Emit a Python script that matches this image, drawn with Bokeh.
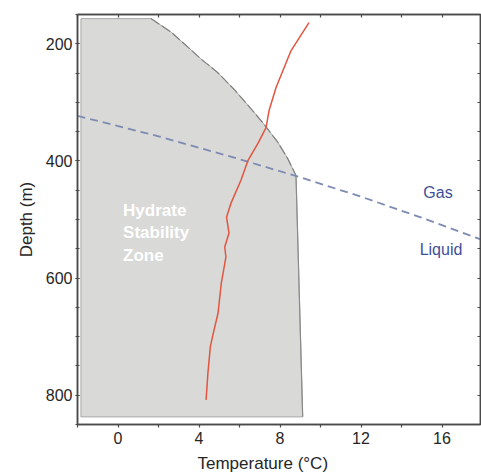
from bokeh.plotting import figure
from bokeh.models import Range1d, FixedTicker, LinearAxis, Label, Title
from bokeh.embed import file_html
from bokeh.resources import INLINE

# ---- data ----
# measured temperature profile (red line)
profile_T = [9.43, 8.54, 7.80, 7.46, 7.31, 6.91, 6.42, 6.07, 5.58, 5.36, 5.48, 5.27, 5.33, 5.10, 4.94, 4.74, 4.56, 4.44, 4.35]
profile_D = [164, 212, 275, 314, 343, 370, 399, 433, 472, 496, 523, 547, 564, 609, 660, 689, 717, 762, 808]

# hydrate stability boundary (curved dashed part)
hsz_T = [1.63, 2.62, 3.27, 4.10, 4.92, 5.74, 6.57, 7.06, 7.31, 7.89, 8.38, 8.79]
hsz_D = [157, 180, 200, 226, 249, 278, 311, 331, 342, 368, 396, 425]
# zone extents
zone_left_T = -1.83
zone_top_D = 157
zone_bottom_D = 837
zone_right_bottom_T = 9.12

# gas / liquid phase boundary (blue dashed)
phase_T = [-2, 2, 6, 9, 12, 15, 18]
phase_D = [323, 358, 397, 428, 461, 497, 535]

x_major = [0, 4, 8, 12, 16]
x_minor = [-2, 2, 6, 10, 14, 18]
y_major = [200, 400, 600, 800]
y_minor = list(range(150, 851, 50))

FONT = "Liberation Sans"
AX = "#4a4a4a"
TXT = "#262626"

p = figure(frame_width=403, frame_height=410,
           x_range=Range1d(-2, 17.9), y_range=Range1d(850, 150),
           output_backend="svg", toolbar_location=None,
           min_border_left=77, min_border_right=1, min_border_top=14, min_border_bottom=20)
p.xgrid.visible = False
p.ygrid.visible = False
p.outline_line_color = AX
p.outline_line_width = 1.5
p.background_fill_color = "white"
p.border_fill_color = "white"

def style_axis(ax):
    ax.axis_line_color = AX
    ax.axis_line_width = 1.5
    ax.major_tick_line_color = AX
    ax.minor_tick_line_color = AX
    ax.major_tick_line_width = 1.2
    ax.minor_tick_line_width = 1.2
    ax.major_label_text_font = FONT
    ax.major_label_text_color = TXT
    ax.major_label_text_font_size = "16px"

xa = p.xaxis[0]
xa.ticker = FixedTicker(ticks=x_major, minor_ticks=x_minor)
style_axis(xa)
xa.major_tick_in = 0; xa.major_tick_out = 3
xa.minor_tick_in = 0; xa.minor_tick_out = 3
xa.major_label_standoff = 4

ya = p.yaxis[0]
ya.ticker = FixedTicker(ticks=y_major, minor_ticks=y_minor)
style_axis(ya)
ya.major_tick_in = 2; ya.major_tick_out = 2
ya.minor_tick_in = 2; ya.minor_tick_out = 2
ya.major_label_standoff = 3

# top and right axes: ticks only (all as minor ticks, so no labels are drawn)
top = LinearAxis(ticker=FixedTicker(ticks=[], minor_ticks=x_major + x_minor))
style_axis(top)
top.minor_tick_in = 3; top.minor_tick_out = 0
top.major_tick_in = 0; top.major_tick_out = 0
top.major_label_standoff = 0
p.add_layout(top, "above")

right = LinearAxis(ticker=FixedTicker(ticks=[], minor_ticks=y_minor))
style_axis(right)
right.minor_tick_in = 3; right.minor_tick_out = 0
right.major_tick_in = 0; right.major_tick_out = 0
right.major_label_standoff = 0
p.add_layout(right, "right")

# hydrate stability zone
poly_T = [zone_left_T] + hsz_T + [zone_right_bottom_T, zone_left_T]
poly_D = [zone_top_D] + hsz_D + [zone_bottom_D, zone_bottom_D]
p.patch(poly_T, poly_D, fill_color="#d9d9d7", line_color="#a8a8a8", line_width=1)
p.line(hsz_T, hsz_D, line_color="#808080", line_width=1.2, line_dash="10 3")
p.line([hsz_T[-1], zone_right_bottom_T], [hsz_D[-1], zone_bottom_D], line_color="#8a8a8a", line_width=1.2)

# phase boundary
p.line(phase_T, phase_D, line_color="#7d8bb3", line_width=1.8, line_dash="8 5")

# temperature profile
p.line(profile_T, profile_D, line_color="#e2553f", line_width=1.5)

# labels
for txt, d in [("Hydrate", 484), ("Stability", 523), ("Zone", 562)]:
    p.add_layout(Label(x=0.25, y=d, text=txt, text_font=FONT, text_font_style="bold",
                       text_color="white", text_font_size="17px",
                       text_baseline="middle", text_align="left"))
for txt, t, d in [("Gas", 15.8, 454), ("Liquid", 15.95, 551)]:
    p.add_layout(Label(x=t, y=d, text=txt, text_font=FONT, text_color="#3d4f98",
                       text_font_size="16px", text_baseline="middle", text_align="center"))

tx = Title(text="Temperature (°C)", align="left", offset=120, text_font=FONT,
           text_font_size="17px", text_font_style="normal", text_color=TXT)
p.add_layout(tx, "below")
ty = Title(text="Depth (m)", align="center", offset=-11, text_font=FONT,
           text_font_size="17px", text_font_style="normal", text_color=TXT)
try:
    ty.standoff = 14
except Exception:
    pass
p.add_layout(ty, "left")

open("out.html", "w").write(file_html(p, INLINE))
